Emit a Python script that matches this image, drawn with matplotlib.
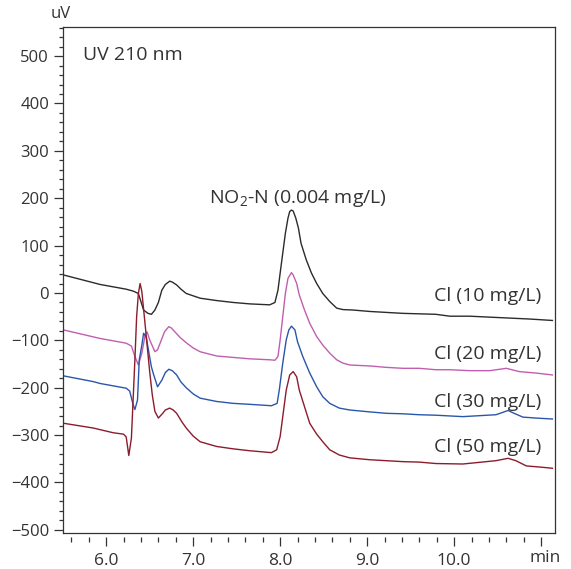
"""
Chromatogram overlay: NO2-N (0.004 mg/L) at UV 210 nm with increasing Cl.
"""

import matplotlib

matplotlib.use("Agg")
import matplotlib.pyplot as plt
from matplotlib.ticker import FixedLocator, MultipleLocator, FuncFormatter

plt.rcParams["font.family"] = ["Open Sans", "DejaVu Sans"]
plt.rcParams["mathtext.fontset"] = "custom"
plt.rcParams["mathtext.rm"] = "Open Sans"

# traces (time in min, signal in uV)
cl10_time = [5.51, 5.93, 6.23, 6.31, 6.37, 6.43, 6.48, 6.52, 6.56, 6.60, 6.64, 6.68, 6.73,
             6.76, 6.81, 6.86, 6.92, 7.08, 7.27, 7.46, 7.65, 7.88, 7.94, 7.975, 8.00, 8.03,
             8.06, 8.09, 8.11, 8.13, 8.15, 8.18, 8.21, 8.24, 8.30, 8.36, 8.42, 8.49, 8.57,
             8.65, 8.72, 8.84, 9.03, 9.22, 9.41, 9.60, 9.79, 9.95, 10.18, 10.41, 10.64,
             10.87, 11.13]
cl10_uv = [38, 18, 8, 4, -1, -36, -43, -45, -36, -20, 6, 18, 25,
           23, 17, 8, -1, -11, -16, -20, -23, -25, -20, 6, 42, 84,
           126, 158, 172, 175, 173, 158, 137, 105, 70, 42, 20, -1, -18,
           -32, -35, -36, -39, -41, -43, -44, -45, -49, -49, -51, -53,
           -55, -58]

cl20_time = [5.51, 5.93, 6.23, 6.29, 6.33, 6.37, 6.41, 6.45, 6.47, 6.50, 6.56, 6.59, 6.62,
             6.67, 6.72, 6.75, 6.79, 6.85, 6.92, 7.00, 7.08, 7.27, 7.46, 7.65, 7.88, 7.94,
             7.975, 8.00, 8.03, 8.06, 8.09, 8.13, 8.15, 8.19, 8.22, 8.28, 8.34, 8.42, 8.49,
             8.57, 8.65, 8.72, 8.80, 9.03, 9.22, 9.41, 9.60, 9.79, 9.95, 10.18, 10.41,
             10.60, 10.75, 10.94, 11.13]
cl20_uv = [-78, -96, -106, -112, -134, -152, -127, -87, -82, -99, -124, -120, -106,
           -82, -71, -74, -82, -94, -105, -116, -124, -133, -136, -139, -141, -142,
           -134, -99, -50, -1, 31, 43, 38, 20, -4, -36, -64, -92, -110,
           -127, -141, -148, -152, -154, -157, -159, -159, -162, -162, -164, -164,
           -159, -166, -169, -173]

cl30_time = [5.51, 5.85, 5.93, 6.23, 6.27, 6.31, 6.33, 6.36, 6.38, 6.41, 6.43, 6.46, 6.49,
             6.52, 6.54, 6.59, 6.64, 6.68, 6.72, 6.76, 6.81, 6.86, 6.92, 7.00, 7.08, 7.27,
             7.46, 7.65, 7.90, 7.965, 7.99, 8.03, 8.07, 8.10, 8.13, 8.17, 8.20, 8.26, 8.34,
             8.42, 8.49, 8.57, 8.68, 8.80, 9.03, 9.22, 9.41, 9.60, 9.79, 10.10, 10.48,
             10.56, 10.62, 10.69, 10.79, 10.94, 11.13]
cl30_uv = [-175, -187, -191, -201, -207, -236, -246, -226, -141, -110, -85, -93, -125,
           -156, -169, -198, -184, -168, -161, -164, -173, -188, -200, -213, -222, -229,
           -233, -235, -238, -233, -205, -148, -99, -78, -70, -78, -103, -134, -169,
           -198, -219, -233, -243, -247, -251, -254, -255, -257, -258, -261, -257,
           -252, -248, -254, -262, -264, -266]

cl50_time = [5.51, 5.85, 6.08, 6.20, 6.23, 6.26, 6.29, 6.33, 6.35, 6.37, 6.39, 6.41, 6.45,
             6.50, 6.53, 6.56, 6.60, 6.65, 6.68, 6.73, 6.77, 6.81, 6.87, 6.92, 7.00, 7.08,
             7.27, 7.46, 7.65, 7.90, 7.96, 8.00, 8.03, 8.07, 8.11, 8.15, 8.19, 8.22, 8.28,
             8.34, 8.42, 8.49, 8.57, 8.68, 8.80, 9.03, 9.22, 9.41, 9.60, 9.79, 10.10,
             10.48, 10.62, 10.71, 10.83, 11.02, 11.13]
cl50_uv = [-275, -285, -295, -298, -304, -343, -306, -141, -50, -1, 20, 3, -71,
           -166, -215, -250, -264, -254, -247, -243, -247, -254, -272, -285, -302, -314,
           -324, -329, -333, -337, -331, -303, -261, -205, -173, -166, -177, -205, -240,
           -275, -298, -314, -331, -342, -348, -352, -354, -356, -357, -360, -361,
           -354, -349, -354, -365, -368, -370]

trace_labels = ["Cl (10 mg/L)", "Cl (20 mg/L)", "Cl (30 mg/L)", "Cl (50 mg/L)"]
label_y = [-16, -140, -240, -335]
x_tick_labels = ["6.0", "7.0", "8.0", "9.0", "10.0", ""]

TEXT = "#333333"


def main():
    fig = plt.figure(figsize=(5.71, 5.69), dpi=100)
    ax = fig.add_axes([0.1098, 0.0638, 0.8622, 0.8892])

    traces = [
        (cl10_time, cl10_uv, "#2b2b2b"),
        (cl20_time, cl20_uv, "#c05fb0"),
        (cl30_time, cl30_uv, "#2a56aa"),
        (cl50_time, cl50_uv, "#8c1c2c"),
    ]
    for t, v, c in traces:
        ax.plot(t, v, color=c, lw=1.0, solid_joinstyle="round")

    ax.set_xlim(5.5, 11.16)
    ax.set_ylim(-506, 562)

    for sp in ax.spines.values():
        sp.set_color(TEXT)
        sp.set_linewidth(0.9)
    # ticks on x sit a little below the frame
    ax.spines["bottom"].set_position(("outward", 3))
    ax.spines["bottom"].set_color("none")
    ax.plot([0, 1], [0, 0], transform=ax.transAxes, color=TEXT, lw=0.9, clip_on=False)

    ax.xaxis.set_major_locator(FixedLocator([6, 7, 8, 9, 10, 11]))
    ax.xaxis.set_major_formatter(FuncFormatter(lambda x, pos: x_tick_labels[pos] if pos is not None and pos < len(x_tick_labels) else ""))
    ax.xaxis.set_minor_locator(MultipleLocator(0.2))
    ax.yaxis.set_major_locator(MultipleLocator(100))
    ax.yaxis.set_minor_locator(MultipleLocator(20))

    ax.tick_params(axis="both", which="both", direction="out", color=TEXT, width=0.9,
                   labelcolor=TEXT)
    ax.tick_params(axis="x", which="major", length=6.5, pad=5, labelsize=12.5)
    ax.tick_params(axis="x", which="minor", length=3.4)
    ax.tick_params(axis="y", which="major", length=6.8, pad=3, labelsize=12)
    ax.tick_params(axis="y", which="minor", length=3.2)

    ax.text(5.73, 492, "UV 210 nm", fontsize=14, color=TEXT, ha="left", va="baseline")
    ax.text(8.21, 189, r"NO$_\mathrm{2}$-N (0.004 mg/L)", fontsize=14, color=TEXT,
            ha="center", va="baseline")
    for lab, y in zip(trace_labels, label_y):
        ax.text(11.0, y, lab, fontsize=14, color=TEXT, ha="right", va="baseline")

    ax.text(-0.005, 1.025, "uV", transform=ax.transAxes, fontsize=12, color=TEXT,
            ha="center", va="center")
    ax.text(11.05, -0.05, "min", transform=ax.get_xaxis_transform(), fontsize=12.5,
            color=TEXT, ha="center", va="center")

    fig.savefig("out.png", dpi=100)
    plt.close(fig)


if __name__ == "__main__":
    main()
